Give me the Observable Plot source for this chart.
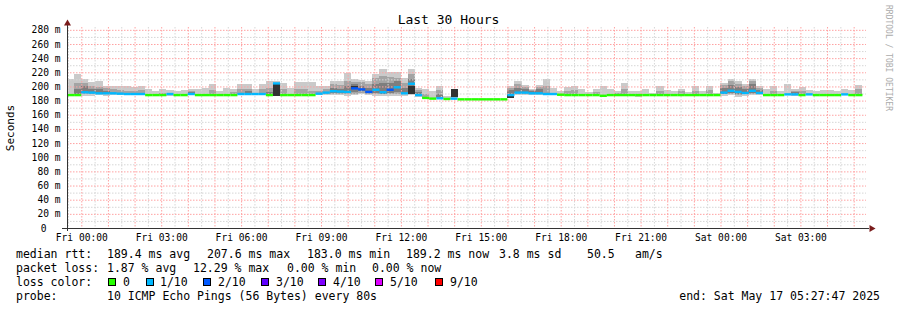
<!DOCTYPE html>
<html><head><meta charset="utf-8">
<script src="https://cdn.jsdelivr.net/npm/d3@7"></script>
<script src="https://cdn.jsdelivr.net/npm/@observablehq/plot@0.6"></script>
<style>
body{margin:0;background:#fff;}
#wrap{position:relative;width:897px;height:310px;overflow:hidden;font-family:"DejaVu Sans Mono",monospace;color:#000;background:#fff;}
#wrap svg{position:absolute;left:0;top:0;}
.t{position:absolute;white-space:pre;font-size:11.5px;line-height:11.5px;}
.box{position:absolute;width:6px;height:6px;border:1px solid #000;}
</style></head><body><div id="wrap"></div>
<script>
// ---- time frame (UTC) ----
const START = Date.UTC(2025, 4, 15, 23, 27, 47);
const END = Date.UTC(2025, 4, 17, 5, 27, 47);
const STEP_MIN = 16;

// ---- per-column median rtt (ms) and lost pings (of 10) ----
const medians = [
 188.5,188.5,192.5,192,191,191,191,190.5,190,190,
 190,188.5,188.5,188.5,190,188.5,188.5,190,188.5,188.5,
 188.5,188.5,188.5,188.5,190,190,190,190,188.5,205,
 188.5,188.5,188.5,188.5,188.5,190.5,192,194,193.5,193,
 198,196.5,193,196,192.5,196,199.5,191,204.5,188.5,
 184.5,183.5,184,183,183.5,182.5,182.5,182.5,182.5,182.5,
 182.5,182.5,188.5,192,192,191,191,190,190,189,
 188.5,188.5,188.5,188.5,188.5,187.5,188.5,188.5,188.5,188.5,
 188.5,188.5,188.5,188.5,188.5,188.5,188.5,188.5,188.5,188.5,
 188.5,188.5,192,194.5,193,191.5,194.5,191.5,188.5,188.5,
 188.5,189.5,189.5,188.5,189.5,188.5,188.5,188.5,188.5,189.5,
 188.5,188.5
];
const losses = [
 0,0,1,1,1,1,1,1,1,1,
 1,0,0,0,1,0,0,1,0,0,
 0,0,0,0,1,1,1,1,0,1,
 0,0,0,0,0,1,1,1,1,1,
 2,2,2,1,1,2,1,1,1,1,
 0,0,1,0,1,0,0,0,0,0,
 0,0,1,1,1,1,1,1,1,0,
 0,0,0,0,0,0,0,0,0,0,
 0,0,0,0,0,0,0,0,0,0,
 0,0,1,1,1,1,1,1,0,0,
 0,1,1,0,1,0,0,0,0,1,
 0,0
];
// ---- smoke: outer range (min / max ping) ----
const smokeHi = [
 210,217,211,206,207,201,201,201,201,199,
 201,197,193,197,195,193,195,197,196,198,
 203,194,198,197,203,203,197,204,208,207,
 205,198,206,206,206,200,200,207,208,219,
 210,209,207,217,225,221,221,212,224,198,
 196,193,200,186,196,null,null,null,null,null,
 null,null,200,207,202,197,202,211,198,193,
 199,200,196,192,197,200,196,193,205,194,
 193,196,191,200,195,193,197,192,200,194,
 200,191,205,210,208,203,210,200,197,200,
 194,204,197,199,195,193,195,195,193,197,
 195,202
];
const smokeLo = [
 187.5,187.5,187,187,187.5,187,187.5,187.5,187.5,187.5,
 187.5,187.5,187.5,186,186,187.5,187.5,187.5,187.5,187.5,
 187.5,187.5,187.5,187.5,187.5,187.5,187.5,187.5,187,187,
 187.5,187.5,187.5,187.5,187.5,187.5,187.5,188,188,187,
 188,189,188,187,186,186,187,187,188,185,
 183,182,183,182,184,null,null,null,null,null,
 null,null,183,188,188,188,188,188,188,187.5,
 187.5,187.5,187.5,187.5,187.5,185.5,187.5,187.5,187.5,187.5,
 185.5,187.5,187.5,187.5,187.5,187.5,187.5,187.5,187.5,187.5,
 187.5,187.5,187,188,185,187,188,188,187.5,187.5,
 187.5,188,187,187.5,188,187.5,187.5,187.5,187.5,188,
 187.5,187.5
];
// ---- smoke: inner bands [column, low, high] ----
const midBand = [
 [1,190,205],[2,189,205],[3,189,200],[4,189,199],[5,189,198],[6,190,197],[7,189,195],[8,189,194],[9,189,193],[10,189,195],
 [13,188,191],[17,189,194],[20,189,195],[23,189,192],[24,189,196],[25,189,197],[27,189,196],[28,189,198],
 [30,189,196],[32,189,197],[33,189,196],[34,189,193],[35,189,194],[36,189,196],[37,190,203],[38,190,202],[39,190,208],
 [40,190,206],[41,191,206],[42,190,203],[43,189,212],[44,189,215],[45,189,214],[46,190,212],[47,189,205],[48,190,218],[49,186,195],
 [50,184,190],[52,184,195],[62,184,198],[63,190,203],[64,190,199],[65,189,195],[66,189,199],[67,189,200],
 [70,189,193],[71,189,195],[74,189,192],[77,189,191],[78,189,197],[83,189,194],[86,189,194],[88,189,193],[90,189,195],
 [92,189,202],[93,190,207],[94,188,203],[95,189,200],[96,190,208],[97,189,198],[99,189,194],[102,188,194],[103,189,194],[111,189,196]
];
const darkBand = [
 [1,190,196],[2,191,201],[3,191,197],[4,190,196],[5,189,193],[17,190,192],[25,190,194],[28,189,192],
 [37,191,198],[38,191,197],[39,191,201],[40,192,203],[41,193,201],[42,191,198],[43,191,203],[44,190,205],[45,191,205],
 [46,192,207],[47,190,198],[48,190,210],[49,187,192],[52,185,190],[62,184,195],[63,191,198],[64,191,196],[65,190,193],[66,190,196],
 [92,190,198],[93,191,202],[94,190,199],[95,190,197],[96,191,203],[97,190,195],[102,189,192]
];
const coreBand = [[29,187,203],[40,196,200],[48,189,201],[54,185,196],[62,184,188]];

// ---- loss colour legend ----
const lossLabels = ["0","1/10","2/10","3/10","4/10","5/10","9/10"];
const lossColors = ["#26ff00","#00b8ff","#0059ff","#5e00ff","#7e00ff","#dd00ff","#ff0000"];

// ---- axis ticks ----
const yTicks = [20,40,60,80,100,120,140,160,180,200,220,240,260,280];
const yMinor = [10,30,50,70,90,110,130,150,170,190,210,230,250,270];
const xTickTimes = [
 Date.UTC(2025,4,16,0),Date.UTC(2025,4,16,3),Date.UTC(2025,4,16,6),Date.UTC(2025,4,16,9),Date.UTC(2025,4,16,12),
 Date.UTC(2025,4,16,15),Date.UTC(2025,4,16,18),Date.UTC(2025,4,16,21),Date.UTC(2025,4,17,0),Date.UTC(2025,4,17,3)
].map(t => new Date(t));

// ---- texts ----
const titleText = "Last 30 Hours";
const yLabelText = "Seconds";
const watermark = "RRDTOOL / TOBI OETIKER";
const rttStats = [["median rtt:",16],["189.4 ms avg",107],["207.6 ms max",207],["183.0 ms min",307],["189.2 ms now",406],["3.8 ms sd",499],["50.5",587],["am/s",635]];
const lossStats = [["packet loss:",16],["1.87 % avg",107],["12.29 % max",193],["0.00 % min",287],["0.00 % now",372]];
const probeText = [["probe:",16],["10 ICMP Echo Pings (56 Bytes) every 80s",107]];
const endText = "end: Sat May 17 05:27:47 2025";

// ---- build table ----
const STEP_MS = STEP_MIN * 60000;
const tStart = k => new Date(START + k * STEP_MS);
const tEnd = k => new Date(START + (k + 1) * STEP_MS);
const lossColor = n => n === 0 ? lossColors[0] : n <= 5 ? lossColors[n] : lossColors[6];
const rows = medians.map((m, k) => ({t1: tStart(k), t2: tEnd(k), med: m, loss: losses[k], lo: smokeLo[k], hi: smokeHi[k]}));
const band = arr => arr.map(([k, lo, hi]) => ({t1: tStart(k), t2: tEnd(k), lo, hi}));

const hours = d3.utcHour.range(new Date(START), new Date(END));
const halfHours = d3.utcMinute.every(30).range(new Date(START), new Date(END)).filter(d => d.getUTCMinutes() === 30);
const fmt = d3.utcFormat("%a %H:%M");
const GRID_MINOR = "#d6d6d6", GRID_MAJOR = "#ffa2a2";

const plot = Plot.plot({
  width: 897, height: 245,
  marginLeft: 67, marginRight: 31, marginTop: 27, marginBottom: 17,
  x: {type: "utc", domain: [new Date(START), new Date(END)]},
  y: {domain: [0, 284]},
  color: {type: "identity"},
  style: {fontFamily: '"DejaVu Sans Mono", monospace', fontSize: "9.6px", color: "#000", background: "#fff", overflow: "visible"},
  marks: [
    Plot.rect(rows.filter(d => d.hi != null), {x1: "t1", x2: "t2", y1: "lo", y2: "hi", fill: "#cacaca", shapeRendering: "crispEdges"}),
    Plot.rect(band(midBand), {x1: "t1", x2: "t2", y1: "lo", y2: "hi", fill: "#a4a4a4", shapeRendering: "crispEdges"}),
    Plot.rect(band(darkBand), {x1: "t1", x2: "t2", y1: "lo", y2: "hi", fill: "#7e7e7e", shapeRendering: "crispEdges"}),
    Plot.ruleY(yMinor, {stroke: GRID_MINOR, strokeDasharray: "1.5,1.5"}),
    Plot.ruleX(halfHours, {stroke: GRID_MINOR, strokeDasharray: "1.5,1.5"}),
    Plot.ruleY(yTicks, {stroke: GRID_MAJOR, strokeDasharray: "1.5,1.5"}),
    Plot.ruleX(hours, {stroke: GRID_MAJOR, strokeDasharray: "1.5,1.5"}),
    Plot.rect(band(coreBand), {x1: "t1", x2: "t2", y1: "lo", y2: "hi", fill: "#323232", shapeRendering: "crispEdges"}),
    Plot.ruleY(rows, {x1: "t1", x2: "t2", y: "med", stroke: d => lossColor(d.loss), strokeWidth: 2.4}),
    Plot.ruleY([0], {stroke: "#333", insetLeft: -5, insetRight: -3, shapeRendering: "crispEdges"}),
    Plot.ruleX([new Date(START)], {stroke: "#333", insetTop: -5, insetBottom: -3, shapeRendering: "crispEdges"}),
    Plot.dot([new Date(END)], {x: d => d, y: () => 0, symbol: "triangle", rotate: 90, r: 2.6, fill: "#7a1c1c", dx: 5}),
    Plot.dot([284], {x: () => new Date(START), y: d => d, symbol: "triangle", r: 2.6, fill: "#7a1c1c", dy: -4}),
    Plot.axisX(xTickTimes, {tickFormat: fmt, tickSize: 0, tickPadding: 6, anchor: "bottom"}),
    Plot.axisY(yTicks, {tickFormat: d => `${d} m`, tickSize: 0, tickPadding: 7, anchor: "left", label: null}),
    Plot.axisY([0], {tickFormat: d => `${d}`, tickSize: 0, tickPadding: 21, anchor: "left", label: null})
  ]
});

const wrap = document.getElementById("wrap");
wrap.appendChild(plot);

function addText(txt, left, top, extra) {
  const d = document.createElement("div");
  d.className = "t";
  d.textContent = txt;
  d.style.left = left + "px";
  d.style.top = top + "px";
  if (extra) Object.assign(d.style, extra);
  wrap.appendChild(d);
  return d;
}
addText(titleText, 0, 13, {width: "897px", textAlign: "center", fontSize: "13px", lineHeight: "13px"});
addText(yLabelText, 10, 128, {fontSize: "11px", lineHeight: "11px", transform: "translate(-50%,-50%) rotate(-90deg)"});
addText(watermark, 892, 5, {fontSize: "8px", lineHeight: "8px", color: "#ababab", transformOrigin: "0 0", transform: "rotate(90deg)"});
rttStats.forEach(([s, x]) => addText(s, x, 249));
lossStats.forEach(([s, x]) => addText(s, x, 263));
addText("loss color:", 16, 277);
const boxX = [108, 146, 203, 261, 318, 375, 435];
const labX = [123, 160, 218, 276, 333, 390, 450];
lossLabels.forEach((lab, i) => {
  const b = document.createElement("div");
  b.className = "box";
  b.style.left = boxX[i] + "px";
  b.style.top = "277.5px";
  b.style.background = lossColors[i];
  wrap.appendChild(b);
  addText(lab, labX[i], 277);
});
probeText.forEach(([s, x]) => addText(s, x, 291));
addText(endText, 0, 291, {width: "880px", textAlign: "right"});
</script>
</body></html>
